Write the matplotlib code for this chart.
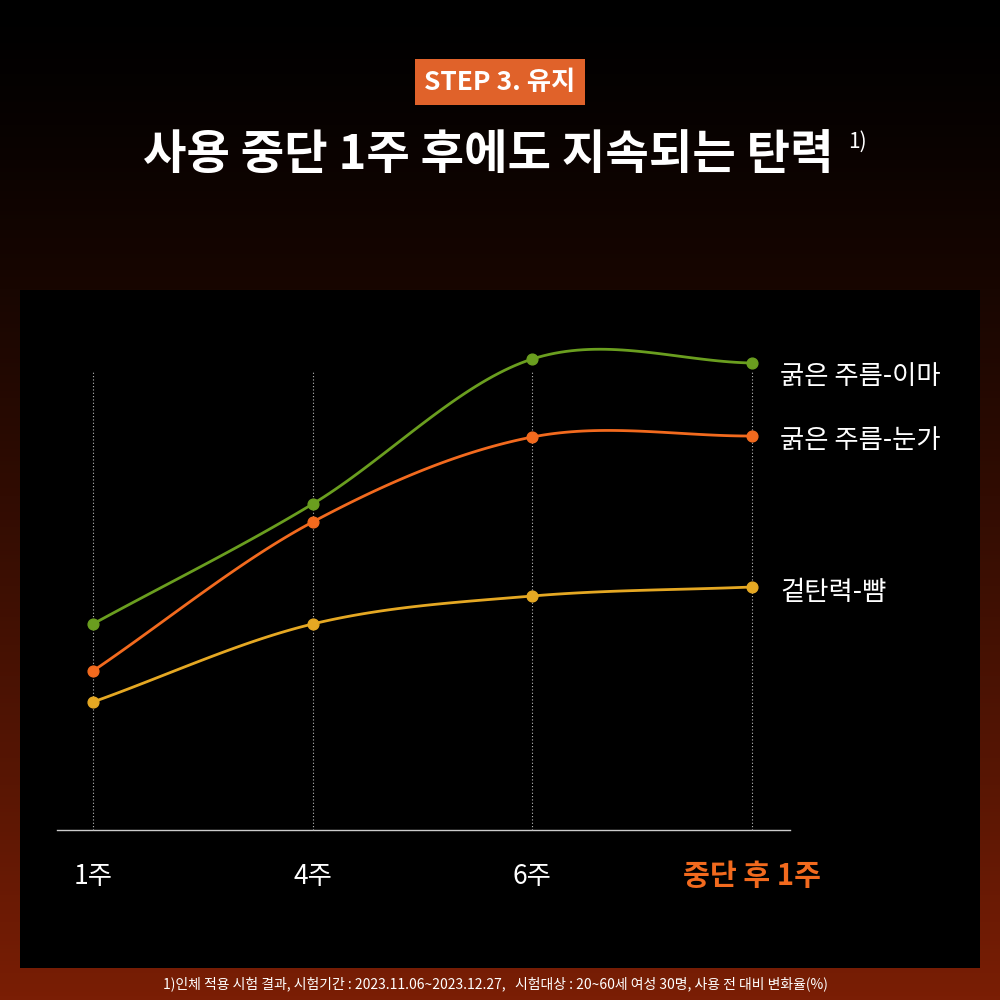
import numpy as np
import matplotlib
matplotlib.use('Agg')
from matplotlib import pyplot as plt

plt.rcParams['font.family'] = ['Noto Sans CJK KR', 'DejaVu Sans']

weeks = ['1주', '4주', '6주', '중단 후 1주']
series_names = ['굵은 주름-이마', '굵은 주름-눈가', '겉탄력-뺨']
green = [206, 326, 471, 467]
orange = [159, 308, 393, 394]
yellow = [128, 206, 234, 243]
colors = ['#6a9e1f', '#f26a1e', '#e5a823']
label_y = [453, 389, 238]

def smooth(xs, ys, n=40):
    # catmull-rom through the points
    xs = np.asarray(xs, float); ys = np.asarray(ys, float)
    px = np.concatenate([[2*xs[0]-xs[1]], xs, [2*xs[-1]-xs[-2]]])
    py = np.concatenate([[2*ys[0]-ys[1]], ys, [2*ys[-1]-ys[-2]]])
    ox, oy = [], []
    t = np.linspace(0, 1, n)
    for i in range(1, len(px)-2):
        for p, o in ((px, ox), (py, oy)):
            p0, p1, p2, p3 = p[i-1], p[i], p[i+1], p[i+2]
            o.extend(0.5*((2*p1) + (-p0+p2)*t + (2*p0-5*p1+4*p2-p3)*t**2 + (-p0+3*p1-3*p2+p3)*t**3))
    return ox, oy

fig = plt.figure(figsize=(10, 10), dpi=100)

# gradient background
bg = fig.add_axes([0, 0, 1, 1])
grad = np.linspace(0, 1, 256)[:, None]
top = np.array([0, 0, 0]); bot = np.array([0x7a, 0x1e, 0x05]) / 255
img = top + (bot - top) * (grad ** 1.3)[:, :, None]
bg.imshow(np.repeat(img, 2, axis=1), aspect='auto', extent=[0, 1, 0, 1])
bg.axis('off')

fig.text(0.5, 0.918, 'STEP 3. 유지', ha='center', va='center', color='white',
         fontsize=19, fontweight='bold',
         bbox=dict(boxstyle='square,pad=0.35', fc='#e0622a', ec='none'))
fig.text(0.488, 0.845, '사용 중단 1주 후에도 지속되는 탄력', ha='center', va='center',
         color='white', fontsize=34, fontweight='bold')
fig.text(0.848, 0.858, '1)', ha='left', va='center', color='white', fontsize=15)

ax = fig.add_axes([0.02, 0.032, 0.96, 0.678])
ax.set_facecolor('black')
ax.set_xlim(-0.332, 4.038)
ax.set_ylim(-138, 540)
ax.axis('off')
ax.add_patch(plt.Rectangle((0, 0), 1, 1, transform=ax.transAxes, fc='black', zorder=0))

x = np.arange(len(weeks))
ax.plot([-0.164, 3.173], [0, 0], color='#cccccc', lw=1)
for xi in x:
    ax.plot([xi, xi], [0, 458], color='#bbbbbb', lw=0.8, ls=(0, (1, 2)))

for ys, c, name, ly in zip([green, orange, yellow], colors, series_names, label_y):
    sx, sy = smooth(x, ys)
    ax.plot(sx, sy, color=c, lw=2)
    ax.scatter(x, ys, color=c, s=60, zorder=3)
    ax.text(3.127, ly, name, color='white', fontsize=19, va='center', ha='left')

for xi, w in zip(x, weeks):
    last = xi == len(weeks) - 1
    ax.text(xi, -46, w, ha='center', va='center', fontsize=21 if last else 19,
            color='#f26a1e' if last else 'white', fontweight='bold' if last else 'normal')

fig.text(0.495, 0.016, '1)인체 적용 시험 결과, 시험기간 : 2023.11.06~2023.12.27,   시험대상 : 20~60세 여성 30명, 사용 전 대비 변화율(%)',
         ha='center', va='center', color='white', fontsize=10)

fig.savefig('out.png', dpi=100, facecolor='black')
